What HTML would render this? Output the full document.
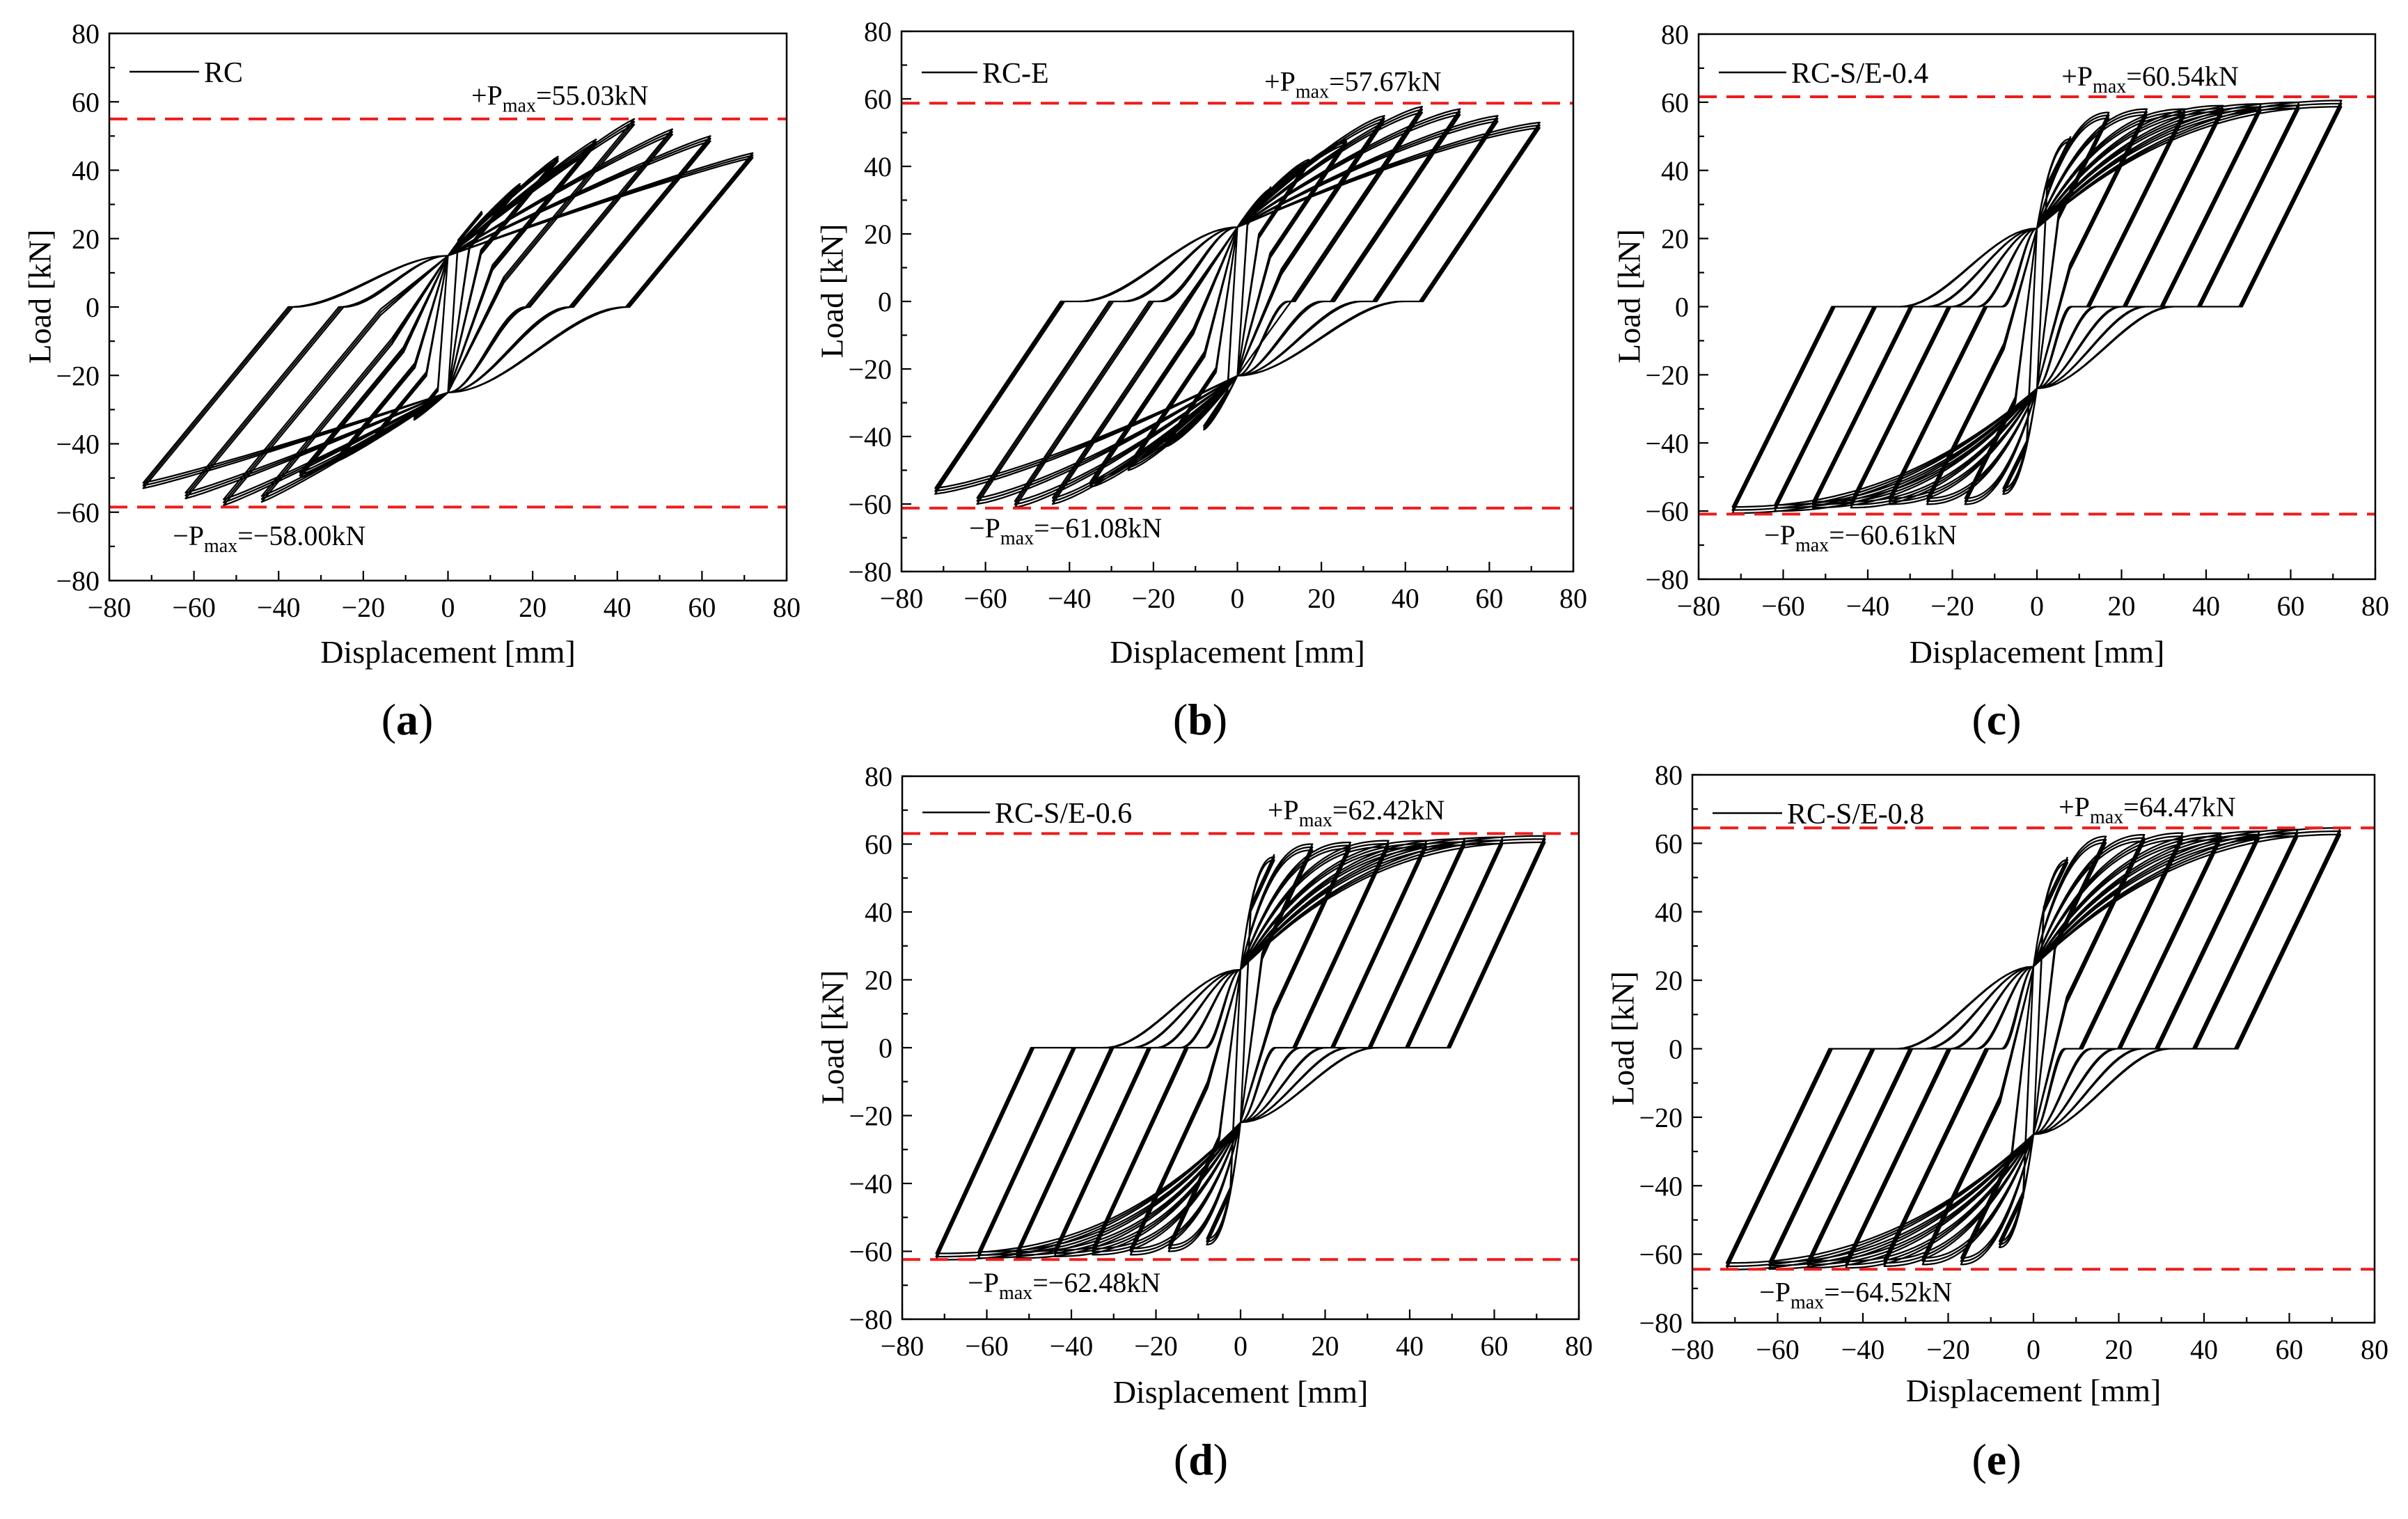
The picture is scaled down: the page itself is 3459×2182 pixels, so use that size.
<!DOCTYPE html>
<html><head><meta charset="utf-8"><style>
html,body{margin:0;padding:0;background:#fff;}
svg{display:block;font-family:"Liberation Serif",serif;}
</style></head><body>
<svg id="fig" width="3459" height="2182" viewBox="0 0 3459 2182" xmlns="http://www.w3.org/2000/svg"></svg>
<script>
// ---- data ----
const amps = [8, 17, 26, 35, 44, 53, 62, 72];
const repeatFactors = [1, 0.985, 0.97];
const posPeaksA = [28, 36, 44, 49, 55, 52, 50, 45];
const negPeaksA = [33, 38, 45, 50, 57, 58, 56, 53];
const posPeaksB = [34, 42, 48, 55, 57.7, 57, 55, 53];
const negPeaksB = [38, 43, 50, 55, 60, 61, 60, 57];
const posPeaksC = [50, 57, 58, 58, 59, 59.5, 60, 60.5];
const negPeaksC = [55, 58, 58, 58, 59, 59, 60, 60.6];
const posPeaksD = [57, 60, 60.5, 61, 61, 61.5, 62, 62.4];
const negPeaksD = [58, 60, 61, 61, 61.5, 62, 62, 62.5];
const posPeaksE = [56, 62, 62.5, 63, 63, 63.5, 64, 64.5];
const negPeaksE = [58, 63, 63, 63.5, 64, 64, 64.3, 64.5];
const plusMaxLabels = ["55.03", "57.67", "60.54", "62.42", "64.47"];
const minusMaxLabels = ["−58.00", "−61.08", "−60.61", "−62.48", "−64.52"];
const plusLineY = [55, 58.7, 61.6, 63.1, 64.5];
const minusLineY = [-58.5, -61.2, -60.9, -62.4, -64.4];
const xTicks = [-80, -60, -40, -20, 0, 20, 40, 60, 80];
const yTicks = [-80, -60, -40, -20, 0, 20, 40, 60, 80];

const panels = [
 {id:'a', name:'RC', pos:posPeaksA, neg:negPeaksA, L:157, R:1130, T:48, B:834, k:1.5, pinchP:15, pinchN:25, c:0, q:1.1,
  plus:[5.5,59.1], minus:[-65,-69.6], legY:103, legLen:100, xt:118, cap:[585,1055]},
 {id:'b', name:'RC-E', pos:posPeaksB, neg:negPeaksB, L:1295, R:2260, T:45, B:821, k:1.85, pinchP:22, pinchN:22, c:0.1, q:1.3,
  plus:[6.4,62.4], minus:[-63.9,-69.9], legY:104, legLen:80, xt:131, cap:[1724,1055]},
 {id:'c', name:'RC-S/E-0.4', pos:posPeaksC, neg:negPeaksC, L:2440, R:3412, T:49, B:832, k:2.5, pinchP:23, pinchN:24, c:0.33, q:2.2,
  plus:[5.8,64.9], minus:[-64.5,-69.8], legY:104, legLen:97, xt:120, cap:[2868,1055]},
 {id:'d', name:'RC-S/E-0.6', pos:posPeaksD, neg:negPeaksD, L:1296, R:2268, T:1115, B:1895, k:2.7, pinchP:23, pinchN:22, c:0.35, q:2.4,
  plus:[6.4,67.3], minus:[-64.5,-72], legY:1167, legLen:97, xt:120, cap:[1725,2118]},
 {id:'e', name:'RC-S/E-0.8', pos:posPeaksE, neg:negPeaksE, L:2431, R:3411, T:1113, B:1900, k:2.6, pinchP:24, pinchN:25, c:0.33, q:2.2,
  plus:[5.9,67.9], minus:[-64.3,-73.8], legY:1168, legLen:100, xt:113, cap:[2868,2118]}
];

const NS = 'http://www.w3.org/2000/svg';
const svg = document.getElementById('fig');
function mk(tag, attrs, parent){
  const e = document.createElementNS(NS, tag);
  for (const k in attrs) e.setAttribute(k, attrs[k]);
  (parent||svg).appendChild(e);
  return e;
}

// half cycle in normalized coordinates (start at +D1 going to -D2)
function half(D1, P1, D2, P2, sgn, p, out){
  const pinch = sgn > 0 ? p.pinchN : p.pinchP;
  let x1 = D1 - P1 / p.k, y1 = 0, c = p.c;
  if (x1 < 0.3 * D1) { x1 = 0.3 * D1; y1 = P1 - p.k * (D1 - x1); c = 0; }
  const N = 30;
  for (let j = 0; j <= 6; j++) { const t = j/6; out.push([D1 + (x1 - D1)*t, P1 + (y1 - P1)*t]); }
  for (let j = 1; j <= N; j++) {
    const t = j/N; const x = x1*(1 - t);
    const s = t < c ? 0 : (t - c)/(1 - c);
    const g = c === 0 && y1 > 0 ? t : s*s*(3 - 2*s);
    out.push([x, y1 + (-pinch - y1)*g]);
  }
  for (let j = 1; j <= N; j++) {
    const t = j/N; const x = -D2*t;
    out.push([x, -pinch - (P2 - pinch)*(1 - Math.pow(1 - t, p.q))]);
  }
  return out;
}

panels.forEach((p, pi) => {
  const g = mk('g', {});
  
  
  const sx = v => p.L + (v + 80) / 160 * (p.R - p.L);
  const sy = v => p.B - (v + 80) / 160 * (p.B - p.T);

  const cp = mk('clipPath', {id:'clip-' + p.id}, g);
  mk('rect', {x:p.L, y:p.T, width:p.R - p.L, height:p.B - p.T}, cp);

  const pts = [];
  const seq = [];
  amps.forEach((D, i) => repeatFactors.forEach(f => seq.push([D, p.pos[i]*f, p.neg[i]*f])));
  for (let i = 0; i < seq.length; i++) {
    const [D, Pp, Pn] = seq[i];
    half(D, Pp, D, Pn, 1, p, []).forEach(([x, y]) => pts.push([x, y]));
    const nxt = seq[Math.min(i + 1, seq.length - 1)];
    half(D, Pn, nxt[0], nxt[1], -1, p, []).forEach(([x, y]) => pts.push([-x, -y]));
  }
  const d = pts.map((q, j) => (j ? 'L' : 'M') + sx(q[0]).toFixed(1) + ' ' + sy(q[1]).toFixed(1)).join('');
  const curve = mk('path', {d:d, fill:'none', stroke:'#000', 'stroke-width':2.3, 'stroke-linejoin':'round', 'clip-path':'url(#clip-' + p.id + ')'}, g);
  
  

  [plusLineY[pi], minusLineY[pi]].forEach((v, j) => {
    const ln = mk('line', {x1:p.L, x2:p.R, y1:sy(v), y2:sy(v), stroke:'#ee1c1c', 'stroke-width':4, 'stroke-dasharray':'26 14'}, g);
    
    
  });

  const fr = mk('rect', {x:p.L, y:p.T, width:p.R - p.L, height:p.B - p.T, fill:'none', stroke:'#000', 'stroke-width':2.5}, g);
  
  

  for (let v = -80; v <= 80; v += 10) {
    const major = v % 20 === 0, len = major ? 14 : 8;
    mk('line', {x1:sx(v), x2:sx(v), y1:p.B, y2:p.B - len, stroke:'#000', 'stroke-width':2.2}, g);
    mk('line', {x1:p.L, x2:p.L + len, y1:sy(v), y2:sy(v), stroke:'#000', 'stroke-width':2.2}, g);
  }
  xTicks.forEach(v => {
    const t = mk('text', {x:sx(v), y:p.B + 52, 'font-size':40, 'text-anchor':'middle'}, g);
    t.textContent = v < 0 ? '−' + Math.abs(v) : String(v);
    
    
  });
  yTicks.forEach(v => {
    const t = mk('text', {x:p.L - 14, y:sy(v) + 14, 'font-size':40, 'text-anchor':'end'}, g);
    t.textContent = v < 0 ? '−' + Math.abs(v) : String(v);
    
    
  });

  const xt = mk('text', {x:(p.L + p.R)/2, y:p.B + p.xt, 'font-size':46, 'text-anchor':'middle'}, g);
  xt.textContent = 'Displacement [mm]';
  
  
  const cy = (p.T + p.B)/2 - 15, cx = p.L - 100;
  const yt = mk('text', {x:cx, y:cy, 'font-size':46, 'text-anchor':'middle', 'dominant-baseline':'central', transform:'rotate(-90 ' + cx + ' ' + cy + ')'}, g);
  yt.textContent = 'Load [kN]';
  
  

  const lg = mk('g', {}, g);
  
  
  mk('line', {x1:p.L + 29, x2:p.L + 29 + p.legLen, y1:p.legY, y2:p.legY, stroke:'#000', 'stroke-width':2.5}, lg);
  const lt = mk('text', {x:p.L + 36 + p.legLen, y:p.legY + 15, 'font-size':42}, lg);
  lt.textContent = p.name;

  const pl = mk('text', {x:sx(p.plus[0]), y:sy(p.plus[1]), 'font-size':40}, g);
  
  
  pl.innerHTML = '+P<tspan font-size="28" dy="10">max</tspan><tspan dy="-10">=' + plusMaxLabels[pi] + 'kN</tspan>';
  const ml = mk('text', {x:sx(p.minus[0]), y:sy(p.minus[1]), 'font-size':40}, g);
  
  
  ml.innerHTML = '−P<tspan font-size="28" dy="10">max</tspan><tspan dy="-10">=' + minusMaxLabels[pi] + 'kN</tspan>';

  const cap = mk('text', {x:p.cap[0], y:p.cap[1], 'font-size':64, 'text-anchor':'middle'}, g);
  
  
  cap.innerHTML = '(<tspan font-weight="bold">' + p.id + '</tspan>)';
});
</script>
</body></html>
